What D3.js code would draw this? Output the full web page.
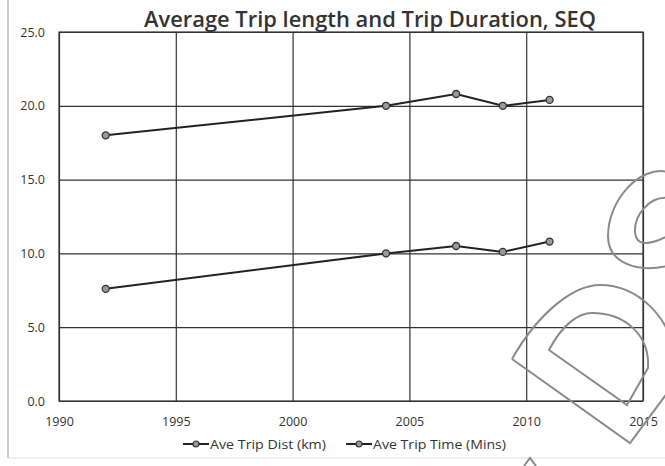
<!DOCTYPE html>
<html><head>
<meta charset="utf-8">
<script src="https://d3js.org/d3.v7.min.js"></script>
<style>
  body { margin: 0; background: #fff; }
  text { font-family: "Open Sans", "Noto Sans", sans-serif; fill: #333; }
  .gridlines line { stroke: #333; stroke-width: 1.2; }
  .gridlines .domain { stroke: none; }
  .axis .domain, .axis line { stroke: none; }
</style>
</head>
<body>
<svg id="chart" width="665" height="466"></svg>
<script>

  // data
  const years = [1992, 2004, 2007, 2009, 2011];
  const tripDist = [7.6, 10.0, 10.5, 10.1, 10.8];
  const tripTime = [18.0, 20.0, 20.8, 20.0, 20.4];
  const seriesNames = ["Ave Trip Dist (km)", "Ave Trip Time (Mins)"];
  const xTicks = [1990, 1995, 2000, 2005, 2010, 2015];
  const yTicks = [0, 5, 10, 15, 20, 25];

  const svg = d3.select("svg#chart");
  const margins = {top: 32, right: 22, bottom: 65, left: 59};
  const chartWidth = 665 - margins.left - margins.right;
  const chartHeight = 466 - margins.top - margins.bottom;

  // page edges from the scan
  svg.append("line").attr("x1", 8).attr("x2", 8).attr("y1", 0).attr("y2", 458)
     .attr("stroke", "#bbb").attr("stroke-width", 1.5);
  svg.append("line").attr("x1", 8).attr("x2", 665).attr("y1", 458).attr("y2", 458)
     .attr("stroke", "#ddd").attr("stroke-width", 1);

  const xScale = d3.scaleLinear().domain([1990, 2015]).range([0, chartWidth]);
  const yScale = d3.scaleLinear().domain([0, 25]).range([chartHeight, 0]);

  const plot = svg.append("g").attr("transform", "translate(" + margins.left + "," + margins.top + ")");

  // gridlines
  plot.append("g").attr("class", "gridlines")
      .call(d3.axisLeft(yScale).tickValues(yTicks).tickFormat("").tickSize(-chartWidth));
  plot.append("g").attr("class", "gridlines")
      .attr("transform", "translate(0," + chartHeight + ")")
      .call(d3.axisBottom(xScale).tickValues(xTicks).tickFormat("").tickSize(-chartHeight));
  plot.append("rect").attr("width", chartWidth).attr("height", chartHeight)
      .attr("fill", "none").attr("stroke", "#333").attr("stroke-width", 1.2);

  // axes labels
  let leftAxis = d3.axisLeft(yScale).tickValues(yTicks).tickFormat(d3.format(".1f")).tickSize(0).tickPadding(14);
  plot.append("g").attr("class", "axis").call(leftAxis)
      .selectAll("text").style("font-size", "12.5px");
  let bottomAxis = d3.axisBottom(xScale).tickValues(xTicks).tickFormat(d3.format("d")).tickSize(0).tickPadding(16);
  plot.append("g").attr("class", "axis").attr("transform", "translate(0," + chartHeight + ")").call(bottomAxis)
      .selectAll("text").style("font-size", "12.5px");
  svg.selectAll(".axis text").attr("fill", "#2a2a2a").style("font-weight", "500");

  // series
  const line = d3.line().x((d, i) => xScale(years[i])).y(d => yScale(d));
  [tripDist, tripTime].forEach(values => {
    plot.append("path").datum(values)
        .attr("d", line).attr("fill", "none")
        .attr("stroke", "#222").attr("stroke-width", 2);
    plot.selectAll(null).data(values).enter().append("circle")
        .attr("cx", (d, i) => xScale(years[i]))
        .attr("cy", d => yScale(d))
        .attr("r", 3.5)
        .attr("fill", "#999").attr("stroke", "#333").attr("stroke-width", 1.3);
  });

  // title
  svg.append("text").attr("x", 370).attr("y", 27)
     .attr("text-anchor", "middle")
     .attr("textLength", 452).attr("lengthAdjust", "spacingAndGlyphs")
     .style("font-size", "21px").style("font-weight", "600").attr("fill", "#222")
     .text("Average Trip length and Trip Duration, SEQ");

  // legend
  const legendX = [183, 346];
  const legendW = [116, 133];
  seriesNames.forEach((name, i) => {
    const g = svg.append("g").attr("transform", "translate(" + legendX[i] + ",444)");
    g.append("line").attr("x1", 0).attr("x2", 26).attr("stroke", "#222").attr("stroke-width", 2);
    g.append("circle").attr("cx", 13).attr("r", 3).attr("fill", "#999").attr("stroke", "#333").attr("stroke-width", 1.2);
    g.append("text").attr("x", 27).attr("y", 4.5)
     .attr("textLength", legendW[i]).attr("lengthAdjust", "spacingAndGlyphs")
     .style("font-size", "12.5px").text(name);
  });

  // watermark outline from the scan
  const mark = svg.append("g").attr("fill", "none").attr("stroke", "#8a8a8a").attr("stroke-width", 2);
  mark.append("path").attr("d", "M512,359 L630,443 L668,392 M512,359 C540,310 575,285 600,285 C640,285 668,320 672,345");
  mark.append("path").attr("d", "M549,350 C562,325 578,313 592,313 C625,313 650,335 648,368 L627,405 Z");
  mark.append("path").attr("d", "M668,172 C640,165 608,200 608,236 C608,262 635,273 668,266");
  mark.append("path").attr("d", "M668,198 C650,196 634,215 635,232 C636,246 648,246 668,236");
  mark.append("path").attr("d", "M524,466 L530,458 L536,466");

</script>
</body>
</html>
